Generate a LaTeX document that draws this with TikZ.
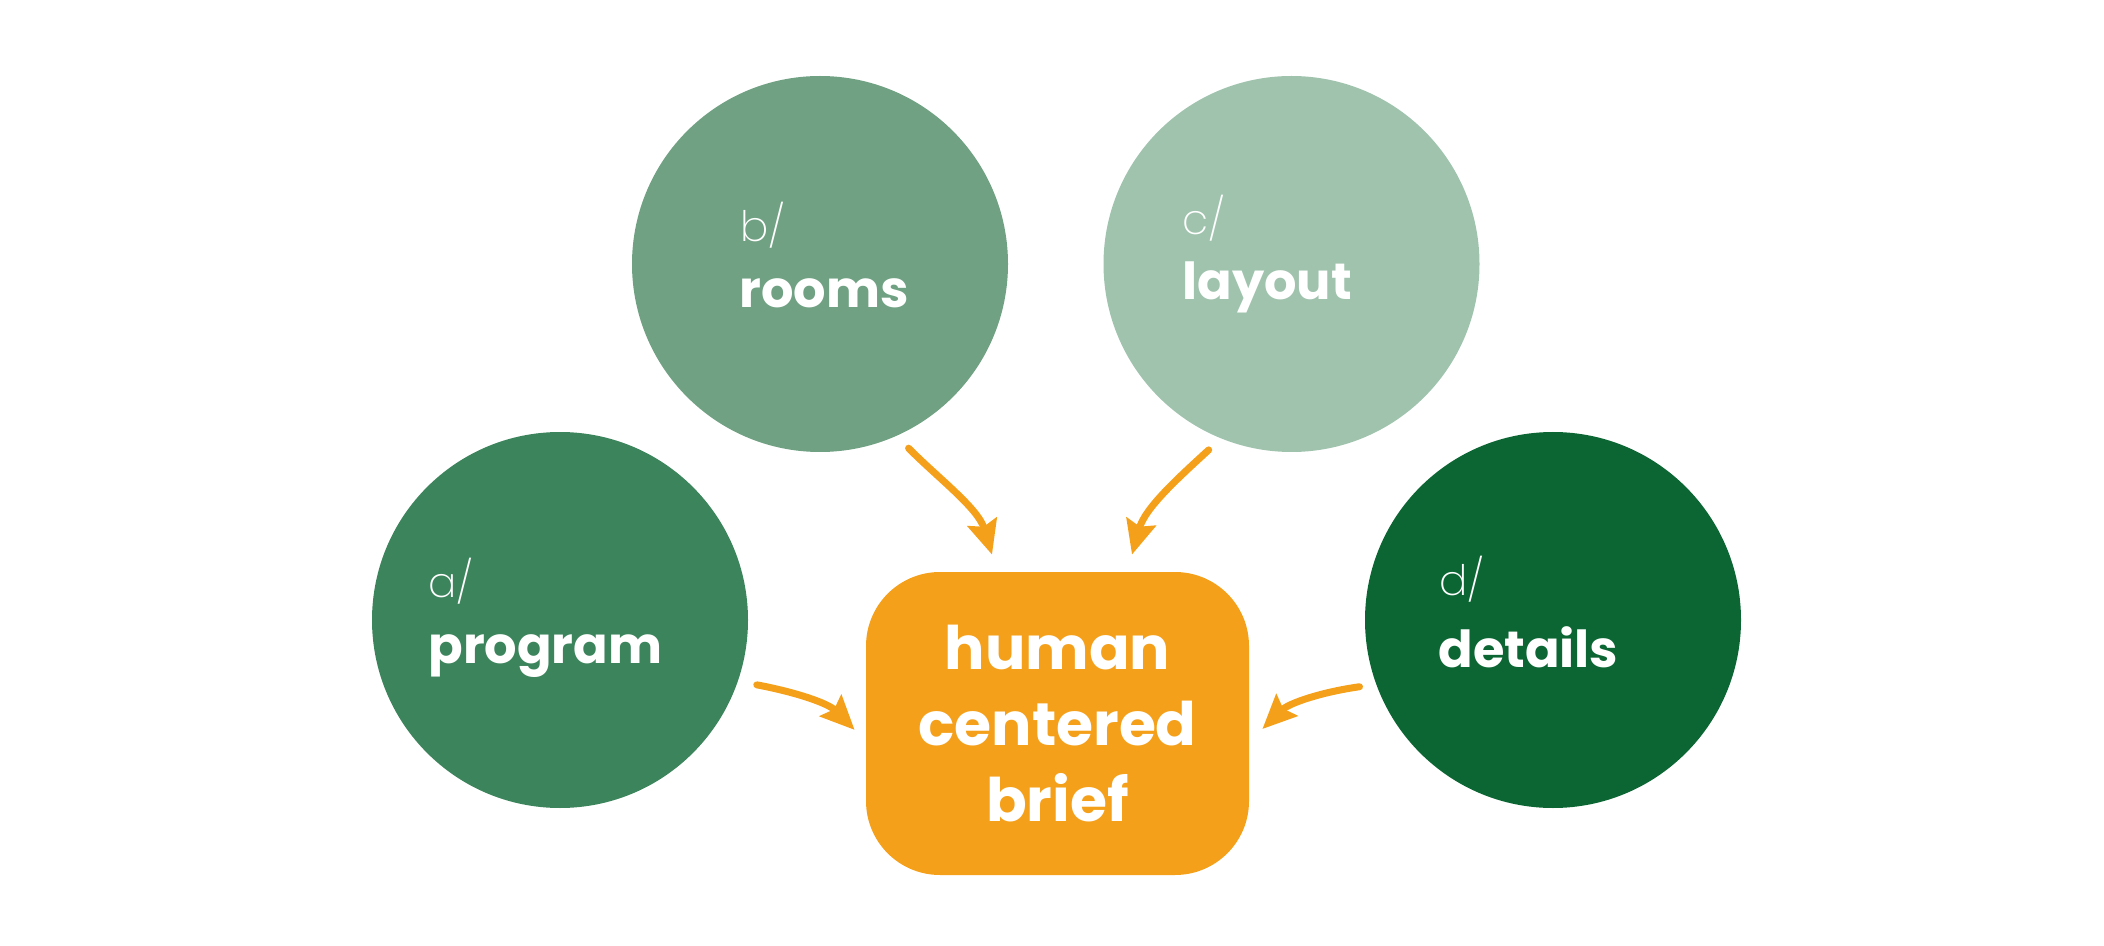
\documentclass[tikz,border=0pt]{standalone}
\usepackage{fontspec}
\setmainfont{Poppins}
\newfontfamily\lightfont{Poppins ExtraLight}
\newfontfamily\heavyfont{Poppins Bold}
\usepackage{tikz}
\usetikzlibrary{arrows.meta, positioning}
\usepackage{xcolor}
\definecolor{bubbleA}{HTML}{3C845C}
\definecolor{bubbleB}{HTML}{6FA182}
\definecolor{bubbleC}{HTML}{A0C3AE}
\definecolor{bubbleD}{HTML}{0B6633}
\definecolor{briefOrange}{HTML}{F5A01A}

\begin{document}
\begin{tikzpicture}[x=0.5pt, y=-0.5pt,
    bubble/.style={circle, minimum size=188pt, inner sep=0pt},
    tagtext/.style={anchor=base west, inner sep=0pt, text=white, font=\lightfont\fontsize{21}{25}\selectfont},
    wordtext/.style={anchor=base west, inner sep=0pt, text=white, font=\heavyfont\fontsize{25.5}{30}\selectfont},
    flow/.style={-{Stealth[length=17pt, width=15pt, inset=2.5pt]}, line width=3.5pt, line cap=round, draw=briefOrange}]
  \useasboundingbox (0,0) rectangle (2104,946);
  % the four inputs
  \node[bubble, fill=bubbleA] (prog) at (560,620) {};
  \node[bubble, fill=bubbleB] (rooms) at (820,264) {};
  \node[bubble, fill=bubbleC] (layout) at (1291.5,264) {};
  \node[bubble, fill=bubbleD] (details) at (1553,620) {};
  \node[tagtext] (progtag) at (428,597) {a/};
  \node[wordtext] (progword) at (428,663) {program};
  \node[tagtext] (roomstag) at (740,242) {b/};
  \node[wordtext] (roomsword) at (739,308) {rooms};
  \node[tagtext] (layouttag) at (1182,235) {c/};
  \node[wordtext] (layoutword) at (1182,300) {layout};
  \node[tagtext] (detailstag) at (1439,595) {d/};
  \node[wordtext] (detailsword) at (1438,667) {details};
  % the brief
  \node[fill=briefOrange, rounded corners=37pt, minimum width=191.5pt, minimum height=151.5pt,
        text=white, align=center, font=\heavyfont\fontsize{30}{38}\selectfont] (brief) at (1057.5,723.5) {human\\centered\\brief};
  % arrows
  \draw[flow, shorten <=9.5pt] (prog.-19.5) .. controls (795,692) and (828,703) .. ([xshift=-5.5pt, yshift=-3.2pt]brief.west);
  \draw[flow, shorten <=8.5pt] (rooms.-66.4) .. controls (938,478) and (978,508) .. ([xshift=-32.75pt, yshift=8.5pt]brief.north);
  \draw[flow, shorten <=8.3pt] (layout.-112.5) .. controls (1177,479) and (1145,508) .. ([xshift=37.25pt, yshift=8.5pt]brief.north);
  \draw[flow, shorten <=8.3pt] (details.-160.6) .. controls (1322,692) and (1289,703) .. ([xshift=6.5pt, yshift=-2.75pt]brief.east);
\end{tikzpicture}
\end{document}
